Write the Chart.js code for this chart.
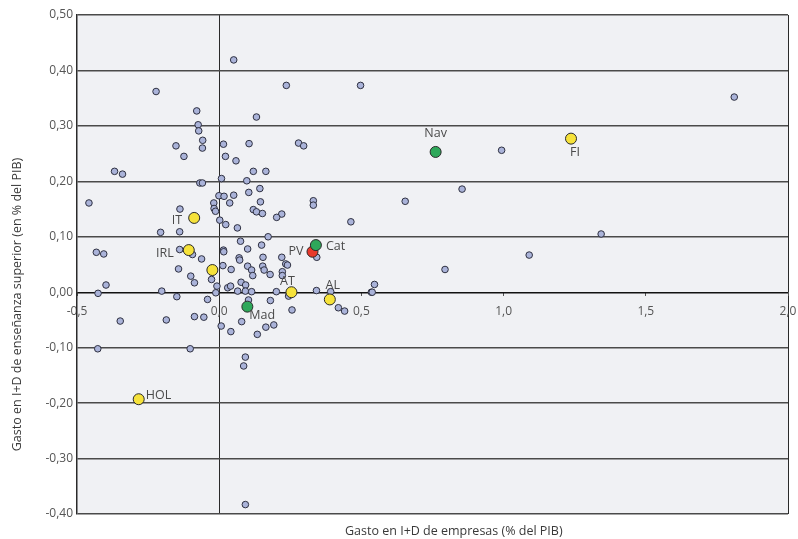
<!DOCTYPE html>
<html>
<head>
<meta charset="utf-8">
<script src="https://cdn.jsdelivr.net/npm/chart.js@4/dist/chart.umd.min.js"></script>
<style>
  html, body { margin: 0; padding: 0; background: #ffffff; }
  #wrap { width: 798px; height: 539px; }
</style>
</head>
<body>
<div id="wrap"><canvas id="scatterChart" width="798" height="539"></canvas></div>
<script>
// Regiones europeas (puntos pequeños): gasto empresas (x) / enseñanza superior (y)
const otrasX = [
  -0.222, -0.079, -0.074, -0.072, -0.058, -0.059, -0.152, -0.124, 0.015, 0.022,
  0.008, -0.368, -0.340, -0.068, -0.059, -0.001, 0.017, 0.051, 0.236, 0.497,
  0.131, 0.105, 0.279, 0.297, 0.059, 0.120, 0.164, 0.097, 0.143, 0.051,
  0.104, 0.145, 0.331, 0.331, -0.458, -0.138, -0.206, -0.139, -0.019, -0.018,
  -0.013, 0.002, 0.023, -0.432, -0.406, -0.139, -0.094, -0.062, 0.015, 0.016,
  0.013, -0.143, -0.100, -0.087, -0.027, -0.008, -0.398, -0.426, -0.202, -0.149,
  -0.012, -0.041, 0.030, -0.348, -0.186, -0.087, -0.054, 0.007, 0.037, 0.120,
  0.131, 0.152, 0.220, 0.202, 0.064, 0.463, 0.172, 0.075, 0.149, 0.343,
  0.100, 0.070, 0.072, 0.154, 0.220, 0.234, 0.240, 0.042, 0.100, 0.114,
  0.153, 0.158, 0.179, 0.222, 0.222, 0.118, 0.077, 0.093, 0.040, 0.065,
  0.092, 0.114, 0.201, 0.244, 0.342, 0.392, 0.535, 0.538, 0.546, 0.419,
  0.441, 0.103, 0.180, 0.256, 0.079, 0.041, 0.134, 0.164, 0.192, -0.427,
  -0.102, 0.092, 0.086, 0.092, 1.811, 0.993, 0.854, 0.654, 1.343, 1.090,
  0.794
];
const otrasY = [
  0.362, 0.327, 0.302, 0.291, 0.274, 0.260, 0.264, 0.245, 0.267, 0.245,
  0.205, 0.218, 0.213, 0.197, 0.197, 0.174, 0.173, 0.419, 0.373, 0.373,
  0.316, 0.268, 0.269, 0.264, 0.237, 0.218, 0.218, 0.201, 0.187, 0.175,
  0.180, 0.163, 0.165, 0.157, 0.161, 0.150, 0.108, 0.109, 0.161, 0.151,
  0.146, 0.130, 0.122, 0.072, 0.069, 0.077, 0.068, 0.060, 0.076, 0.073,
  0.048, 0.042, 0.029, 0.017, 0.023, 0.011, 0.013, -0.002, 0.002, -0.008,
  -0.001, -0.013, 0.008, -0.052, -0.050, -0.044, -0.045, -0.061, 0.161, 0.149,
  0.145, 0.142, 0.141, 0.135, 0.116, 0.127, 0.100, 0.092, 0.085, 0.063,
  0.078, 0.062, 0.058, 0.063, 0.063, 0.051, 0.049, 0.041, 0.047, 0.040,
  0.047, 0.040, 0.032, 0.037, 0.030, 0.030, 0.018, 0.013, 0.011, 0.002,
  0.002, 0.001, 0.001, -0.007, 0.003, 0.001, 0.000, 0.000, 0.014, -0.028,
  -0.034, -0.014, -0.015, -0.032, -0.053, -0.071, -0.076, -0.063, -0.059, -0.102,
  -0.102, -0.117, -0.133, -0.383, 0.352, 0.256, 0.186, 0.164, 0.105, 0.067,
  0.041
];

// Regiones de referencia europeas (amarillo)
const referenciaNombres = ['IT', 'IRL', '', 'AT', 'AL', 'HOL', 'FI'];
const referenciaX = [-0.088, -0.107, -0.024, 0.254, 0.389, -0.283, 1.237];
const referenciaY = [0.134, 0.076, 0.040, 0.000, -0.013, -0.193, 0.277];

// Comunidades españolas (verde)
const espanaNombres = ['Nav', 'Cat', 'Mad'];
const espanaX = [0.761, 0.340, 0.099];
const espanaY = [0.253, 0.085, -0.026];

// País Vasco (rojo)
const pvNombres = ['PV'];
const pvX = [0.328];
const pvY = [0.073];

const xTicks = [-0.5, 0.0, 0.5, 1.0, 1.5, 2.0];

// position des étiquettes par rapport au point (px)
const etiquetteOffsets = {
    'IT':  { dx: -12, dy: 3, align: 'right' },
    'IRL': { dx: -15, dy: 3, align: 'right' },
    'AT':  { dx: -4, dy: -11, align: 'center' },
    'AL':  { dx: 3, dy: -14, align: 'center' },
    'HOL': { dx: 7, dy: -4, align: 'left' },
    'FI':  { dx: 4, dy: 14, align: 'center' },
    'Nav': { dx: 0, dy: -19, align: 'center' },
    'Cat': { dx: 10, dy: 1, align: 'left' },
    'PV':  { dx: -9, dy: 0, align: 'right' },
    'Mad': { dx: 2, dy: 9, align: 'left' }
};

const FONT = "'Open Sans', 'Noto Sans', sans-serif";
const comma = (v, d) => v.toFixed(d).replace('.', ',');
const toPoints = (xs, ys) => xs.map((x, i) => ({ x: x, y: ys[i] }));

const fondoPlugin = {
    id: 'fondo',
    beforeDraw(chart) {
        const { ctx, chartArea: a } = chart;
        ctx.save();
        ctx.fillStyle = '#f0f1f4';
        ctx.fillRect(a.left, a.top, a.right - a.left, a.bottom - a.top);
        ctx.restore();
    }
};

const etiquetasPlugin = {
    id: 'etiquetas',
    afterDatasetsDraw(chart) {
        const { ctx, chartArea: a } = chart;
        ctx.save();
        ctx.font = '12.5px ' + FONT;
        ctx.fillStyle = '#4a4a4a';
        ctx.textBaseline = 'middle';
        chart.data.datasets.forEach((ds, di) => {
            if (!ds.nombres) return;
            const meta = chart.getDatasetMeta(di);
            meta.data.forEach((pt, i) => {
                const nombre = ds.nombres[i];
                const off = etiquetteOffsets[nombre];
                if (!nombre || !off) return;
                ctx.textAlign = off.align;
                ctx.fillText(nombre, pt.x + off.dx, pt.y + off.dy);
            });
        });
        // titres des axes
        ctx.fillStyle = '#3a3a3a';
        ctx.textAlign = 'left';
        ctx.fillText('Gasto en I+D de empresas (% del PIB)', 345, chart.height - 8);
        ctx.textAlign = 'center';
        ctx.translate(17, a.top + (a.bottom - a.top) / 2 + 40);
        ctx.rotate(-Math.PI / 2);
        ctx.fillText('Gasto en I+D de enseñanza superior (en % del PIB)', 0, 0);
        ctx.restore();
    }
};

const small = {
    pointRadius: 3.3,
    pointBackgroundColor: '#aab3d9',
    pointBorderColor: '#2e3040',
    pointBorderWidth: 1
};
const big = {
    pointRadius: 5.5,
    pointBorderColor: '#2a2a2a',
    pointBorderWidth: 1
};

new Chart(document.getElementById('scatterChart').getContext('2d'), {
    type: 'scatter',
    data: {
        datasets: [
            Object.assign({ label: 'Otras', data: toPoints(otrasX, otrasY), order: 3 }, small),
            Object.assign({ label: 'Referencia', nombres: referenciaNombres, data: toPoints(referenciaX, referenciaY), pointBackgroundColor: '#f6e23a', order: 2 }, big),
            Object.assign({ label: 'España', nombres: espanaNombres, data: toPoints(espanaX, espanaY), pointBackgroundColor: '#2fa85a', order: 1 }, big),
            Object.assign({ label: 'PV', nombres: pvNombres, data: toPoints(pvX, pvY), pointBackgroundColor: '#e8392c', order: 1 }, big)
        ]
    },
    options: {
        responsive: false,
        animation: false,
        layout: { padding: { left: 0, top: 15, right: 10, bottom: 25 } },
        plugins: { legend: { display: false }, tooltip: { enabled: false } },
        scales: {
            x: {
                type: 'linear',
                position: { y: 0 },
                min: -0.5, max: 2.0,
                afterBuildTicks: (s) => { s.ticks = xTicks.map(v => ({ value: v })); },
                afterFit: (s) => { s.paddingRight = 0; s.paddingLeft = 0; },
                border: { display: false },
                grid: {
                    color: (c) => (c.tick && (c.tick.value === 0 || c.tick.value === 2)) ? '#2a2a2a' : 'rgba(0,0,0,0)',
                    lineWidth: 1,
                    tickColor: '#555',
                    tickLength: 4
                },
                ticks: {
                    padding: 8,
                    color: '#555',
                    font: { family: FONT, size: 12 },
                    callback: (v) => comma(v, 1)
                }
            },
            y: {
                min: -0.4, max: 0.5,
                afterFit: (s) => { s.width = 77; },
                border: { display: true, color: '#2a2a2a', width: 1.5 },
                grid: {
                    color: (c) => (c.tick && Math.abs(c.tick.value) < 1e-9) ? '#111' : '#4a4a4a',
                    lineWidth: 1.4,
                    drawTicks: false
                },
                ticks: {
                    stepSize: 0.1,
                    padding: 4,
                    color: '#555',
                    font: { family: FONT, size: 12 },
                    callback: (v) => comma(v, 2)
                }
            }
        }
    },
    plugins: [fondoPlugin, etiquetasPlugin]
});
</script>
</body>
</html>
